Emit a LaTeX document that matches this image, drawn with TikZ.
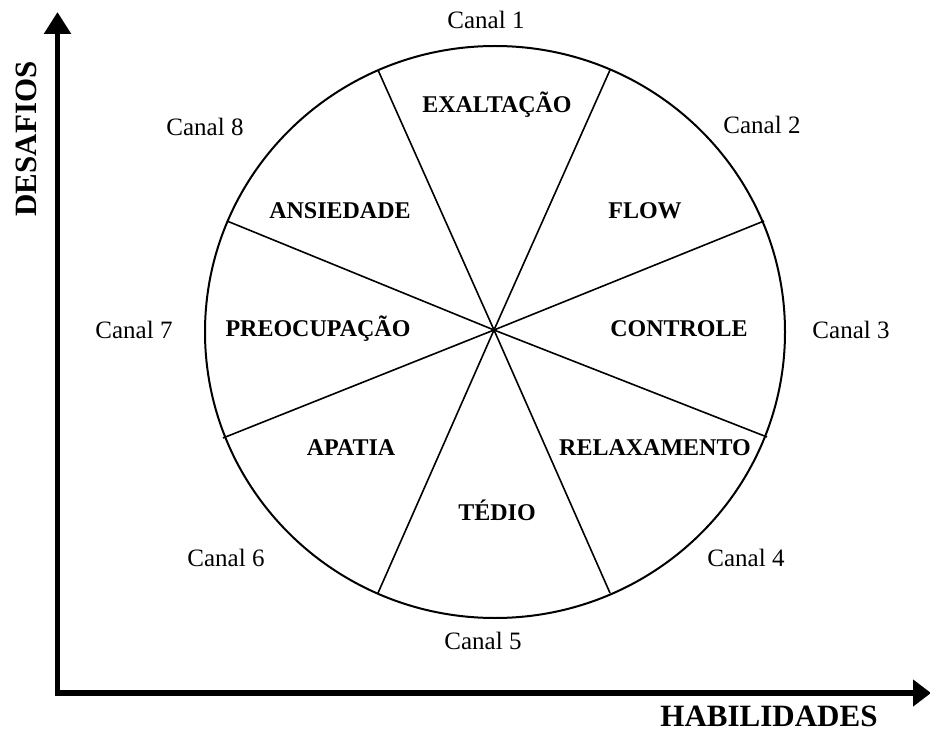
\documentclass[tikz,border=0pt]{standalone}
\usepackage{fontspec}
\setmainfont{Liberation Serif}
\usetikzlibrary{arrows.meta}
\begin{document}
\begin{tikzpicture}[x=1pt,y=-1pt,
  canal/.style={font=\fontsize{25}{25}\selectfont, inner sep=0pt},
  estado/.style={font=\fontsize{24}{24}\selectfont\bfseries, inner sep=0pt},
  eixo/.style={font=\fontsize{31}{31}\selectfont\bfseries, inner sep=0pt},
  raio/.style={line width=1.6pt},
  axisline/.style={line width=5.5pt, line join=miter}]
\useasboundingbox (0,0) rectangle (930,733);
% circle
\coordinate (c) at (494,330);
\draw[line width=2pt] (495,332) ellipse [x radius=290, y radius=286];
% radial points
\coordinate (t1) at (378,70);  \coordinate (b1) at (610,593);
\coordinate (t2) at (610,70);  \coordinate (b2) at (378,593);
\coordinate (l1) at (227,221); \coordinate (r1) at (767,437);
\coordinate (r2) at (764,221); \coordinate (l2) at (223,438);
\draw[raio] (t1) -- (c) -- (b1);
\draw[raio] (t2) -- (c) -- (b2);
\draw[raio] (l1) -- (c) -- (r1);
\draw[raio] (r2) -- (c) -- (l2);
% axes
\coordinate (ytop) at (57.5,12);
\coordinate (xend) at (931,693);
\draw[axisline, {Triangle[length=22pt,width=26pt]}-{Triangle[length=18pt,width=26pt]}] (ytop) |- (xend);
\node[eixo, rotate=90] (desafios) at (26,139) {DESAFIOS};
\node[eixo] (habilidades) at (769,716) {HABILIDADES};
% channels
\node[canal] (c1) at (486,20) {Canal 1};
\node[canal] (c2) at (762,125) {Canal 2};
\node[canal] (c3) at (851,330) {Canal 3};
\node[canal] (c4) at (746,558) {Canal 4};
\node[canal] (c5) at (483,641) {Canal 5};
\node[canal] (c6) at (226,558) {Canal 6};
\node[canal] (c7) at (134,330) {Canal 7};
\node[canal] (c8) at (205,127) {Canal 8};
% states
\node[estado] (s1) at (497,105) {EXALTAÇÃO};
\node[estado] (s2) at (645,211) {FLOW};
\node[estado] (s3) at (679,329) {CONTROLE};
\node[estado] (s4) at (655,448) {RELAXAMENTO};
\node[estado] (s5) at (497,510) {TÉDIO};
\node[estado] (s6) at (351,448) {APATIA};
\node[estado] (s7) at (318,329) {PREOCUPAÇÃO};
\node[estado] (s8) at (340,211) {ANSIEDADE};
\end{tikzpicture}
\end{document}
